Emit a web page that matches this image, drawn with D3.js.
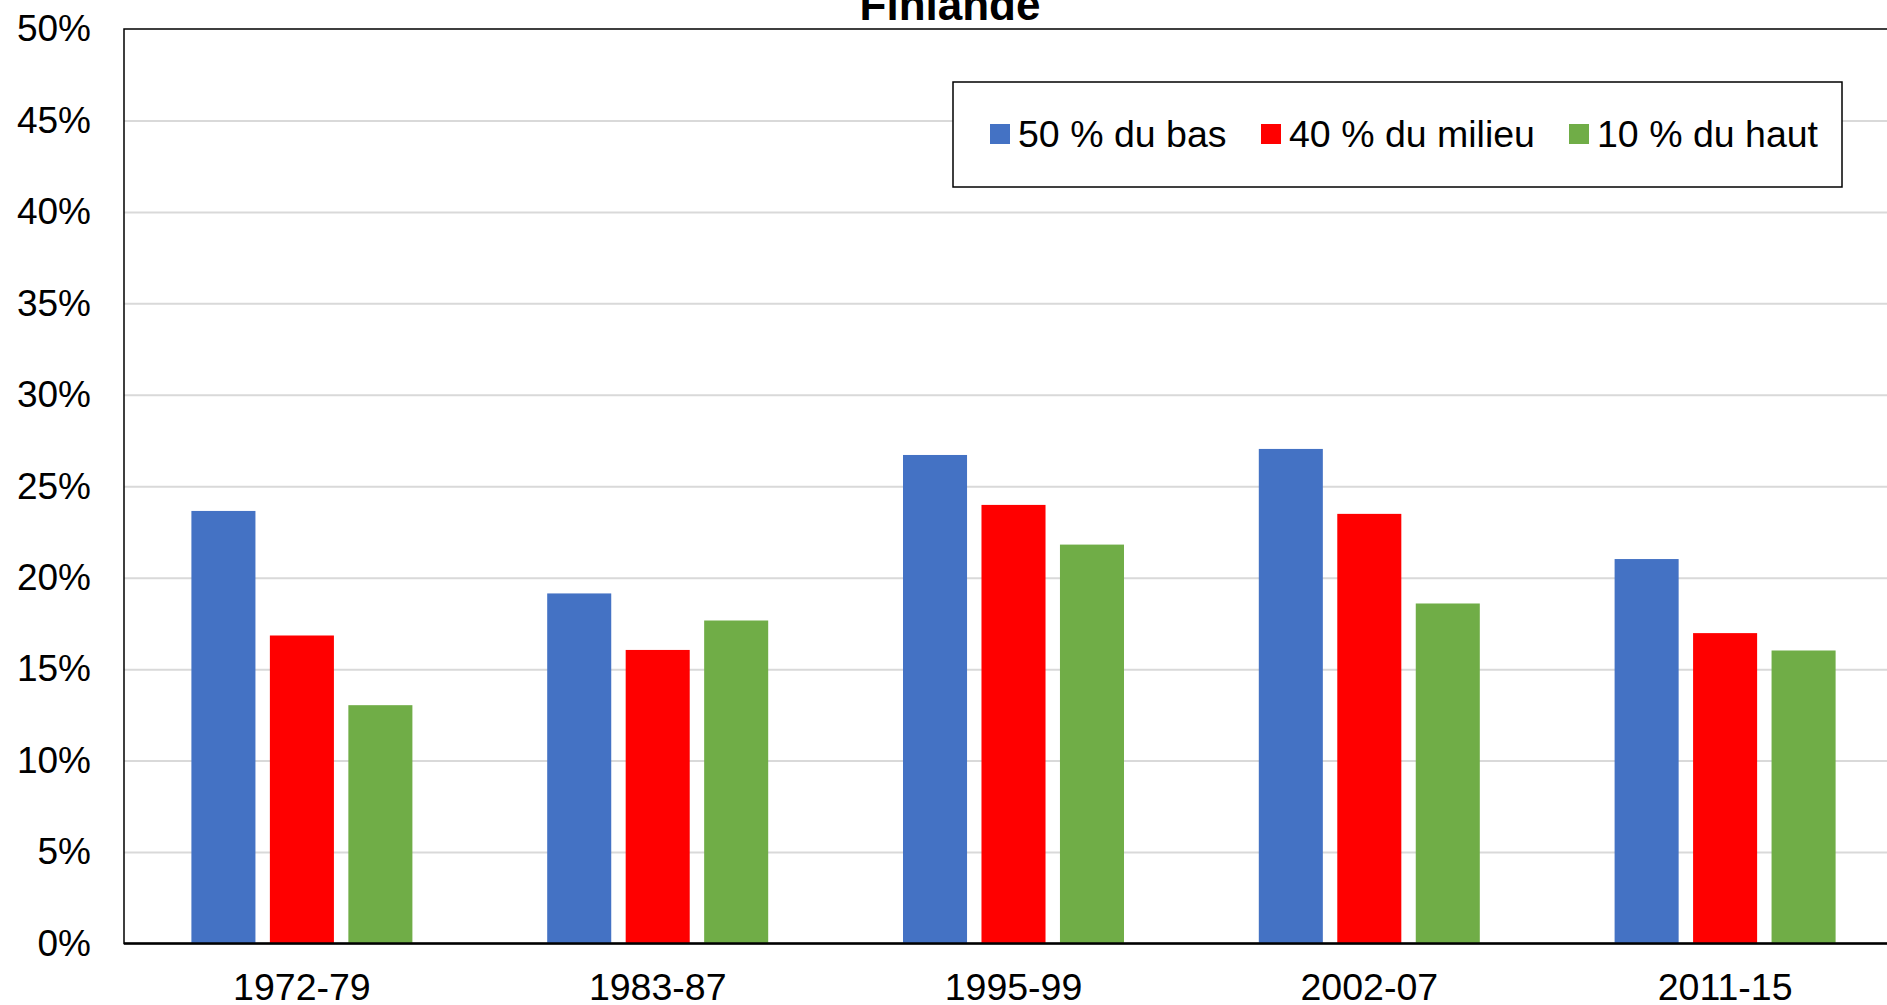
<!DOCTYPE html>
<html>
<head>
<meta charset="utf-8">
<script src="https://cdn.jsdelivr.net/npm/d3@7"></script>
<style>
  html, body { margin: 0; padding: 0; background: #fff; overflow: hidden; }
  svg { display: block; font-family: "Liberation Sans", Arial, sans-serif; }
</style>
</head>
<body>
<svg id="chart" width="1887" height="1005"></svg>
<script>
const categories = ["1972-79", "1983-87", "1995-99", "2002-07", "2011-15"];
const seriesNames = ["50 % du bas", "40 % du milieu", "10 % du haut"];
const seriesColors = ["#4472c4", "#ff0000", "#70ad47"];
const bottom50 = [23.65, 19.14, 26.71, 27.04, 21.02];
const middle40 = [16.84, 16.05, 23.98, 23.49, 16.97];
const top10 = [13.03, 17.66, 21.81, 18.59, 16.02];
const yTicks = [0, 5, 10, 15, 20, 25, 30, 35, 40, 45, 50];
const title = "Finlande";

const seriesValues = [bottom50, middle40, top10];

const svg = d3.select("#chart");
const plotLeft = 124, plotRight = 1903, plotTop = 29, plotBottom = 943.5;

const y = d3.scaleLinear().domain([0, 50]).range([plotBottom, plotTop]);
const x = d3.scaleBand().domain(categories).range([plotLeft, plotRight]).padding(0);
const groupW = 221;
const xs = d3.scaleBand().domain(seriesNames)
  .range([(x.bandwidth() - groupW) / 2, (x.bandwidth() + groupW) / 2])
  .paddingInner(0.184).paddingOuter(0);

// gridlines
svg.append("g")
  .attr("transform", `translate(${plotLeft},0)`)
  .call(d3.axisLeft(y).tickValues(yTicks.filter(t => t > 0 && t < 50)).tickSize(-(plotRight - plotLeft)).tickFormat(""))
  .call(g => g.select(".domain").remove())
  .call(g => g.selectAll("line").attr("stroke", "#d9d9d9").attr("stroke-width", 2));

// plot border
svg.append("rect")
  .attr("x", plotLeft).attr("y", plotTop)
  .attr("width", plotRight - plotLeft).attr("height", plotBottom - plotTop)
  .attr("fill", "none").attr("stroke", "#000").attr("stroke-width", 1.5);

// bars
const groups = svg.append("g").selectAll("g")
  .data(categories)
  .join("g")
  .attr("transform", d => `translate(${x(d)},0)`);

groups.selectAll("rect")
  .data((c, i) => seriesNames.map((s, k) => ({ s, k, v: seriesValues[k][i] })))
  .join("rect")
  .attr("x", d => xs(d.s))
  .attr("width", xs.bandwidth())
  .attr("y", d => y(d.v))
  .attr("height", d => y(0) - y(d.v))
  .attr("fill", d => seriesColors[d.k]);

// x axis line
svg.append("line")
  .attr("x1", plotLeft).attr("x2", plotRight)
  .attr("y1", y(0)).attr("y2", y(0))
  .attr("stroke", "#000").attr("stroke-width", 2.5);

// y axis labels
svg.append("g")
  .attr("transform", `translate(${plotLeft},0)`)
  .call(d3.axisLeft(y).tickValues(yTicks).tickSize(0).tickPadding(33).tickFormat(d => d + "%"))
  .call(g => g.select(".domain").remove())
  .call(g => g.selectAll("text").attr("font-size", 37).attr("fill", "#000")
    .attr("font-family", "Liberation Sans, Arial, sans-serif"));

// x axis labels
svg.append("g")
  .attr("transform", `translate(0,${plotBottom})`)
  .call(d3.axisBottom(x).tickSize(0).tickPadding(30))
  .call(g => g.select(".domain").remove())
  .call(g => g.selectAll("text").attr("font-size", 37.5).attr("fill", "#000")
    .attr("font-family", "Liberation Sans, Arial, sans-serif"));

// title
svg.append("text")
  .attr("x", 950).attr("y", 20)
  .attr("text-anchor", "middle")
  .attr("font-size", 44).attr("font-weight", "bold")
  .text(title);

// legend
const legend = svg.append("g");
legend.append("rect")
  .attr("x", 953).attr("y", 82).attr("width", 889).attr("height", 105)
  .attr("fill", "#fff").attr("stroke", "#000").attr("stroke-width", 1.5);
const legendX = [990, 1261, 1569];
const li = legend.selectAll("g.item").data(seriesNames).join("g").attr("class", "item")
  .attr("transform", (d, i) => `translate(${legendX[i]},134)`);
li.append("rect").attr("x", 0).attr("y", -10).attr("width", 20).attr("height", 20)
  .attr("fill", (d, i) => seriesColors[i]);
li.append("text").attr("x", 28).attr("y", 13)
  .attr("font-size", 37.5).text(d => d);
</script>
</body>
</html>
